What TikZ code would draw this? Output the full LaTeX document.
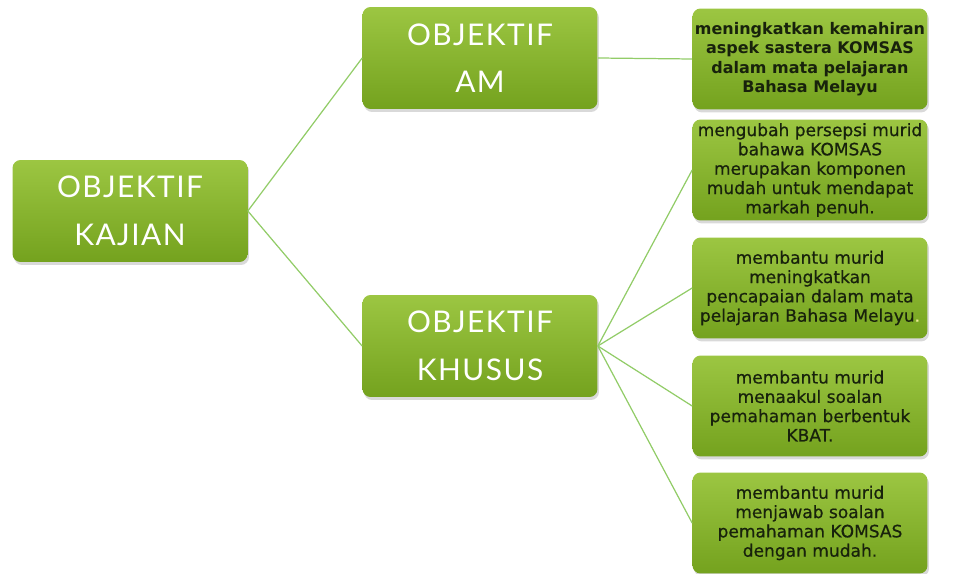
\documentclass[tikz,border=0pt]{standalone}
\usepackage{fontspec}
\setmainfont{DejaVu Sans}
\newfontfamily\judul{Lato}
\usetikzlibrary{shadows}
\definecolor{hijauatas}{RGB}{156,198,66}
\definecolor{hijaubawah}{RGB}{116,162,30}
\definecolor{garishijau}{RGB}{146,204,104}
\definecolor{teksgelap}{RGB}{24,34,12}
\definecolor{titikkuning}{RGB}{236,236,150}
\begin{document}
\begin{tikzpicture}[x=0.02cm, y=-0.02cm,
	every node/.style={rectangle, rounded corners=0.16cm, inner sep=0pt, align=center,
		top color=hijauatas, bottom color=hijaubawah,
		drop shadow={opacity=0.3, shadow xshift=0.03cm, shadow yshift=-0.06cm}},
	utama/.style={minimum width=4.7cm, minimum height=2.04cm, text=white,
		font=\judul\addfontfeature{LetterSpace=5}\fontsize{17}{27}\selectfont},
	kecil/.style={minimum width=4.7cm, minimum height=2.02cm, text=teksgelap,
		font=\addfontfeature{FakeBold=0.6}\fontsize{9.7}{11}\selectfont},
	tebal/.style={font=\bfseries\fontsize{9.1}{11}\selectfont},
	garis/.style={draw=garishijau, line width=0.7pt}]
	\useasboundingbox (0,0) rectangle (970,574);
	% kotak utama
	\node[utama] (kajian) at (130,211) {OBJEKTIF\\KAJIAN};
	\node[utama] (am) at (480,58) {OBJEKTIF\\AM};
	\node[utama] (khusus) at (480,346) {OBJEKTIF\\KHUSUS};
	% objektif am
	\node[kecil, tebal] (am1) at (810,59)
		{meningkatkan kemahiran\\aspek sastera KOMSAS\\dalam mata pelajaran\\Bahasa Melayu};
	% objektif khusus
	\node[kecil] (khusus1) at (810,170)
		{mengubah persepsi murid\\bahawa KOMSAS\\merupakan komponen\\mudah untuk mendapat\\markah penuh.};
	\node[kecil] (khusus2) at (810,288)
		{membantu murid\\meningkatkan\\pencapaian dalam mata\\pelajaran Bahasa Melayu\textcolor{titikkuning}{.}};
	\node[kecil] (khusus3) at (810,406)
		{membantu murid\\menaakul soalan\\pemahaman berbentuk\\KBAT.};
	\node[kecil] (khusus4) at (810,523)
		{membantu murid\\menjawab soalan\\pemahaman KOMSAS\\dengan mudah.};
	% garisan
	\draw[garis] (kajian.east) -- (am.west);
	\draw[garis] (kajian.east) -- (khusus.west);
	\draw[garis] (am.east) -- (am1.west);
	\foreach \k in {khusus1,khusus2,khusus3,khusus4}
		\draw[garis] (khusus.east) -- (\k.west);
\end{tikzpicture}
\end{document}
